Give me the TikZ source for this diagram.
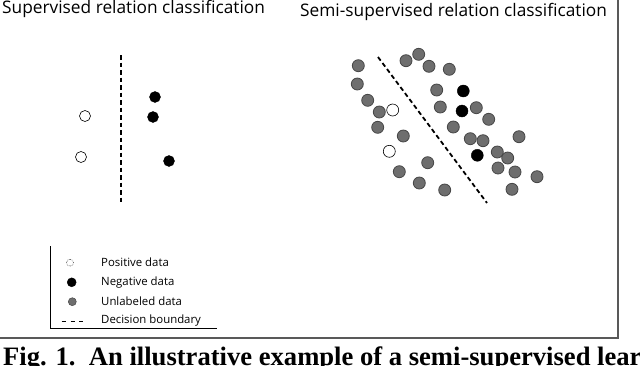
\documentclass[tikz,border=0pt]{standalone}
\usepackage{fontspec}
\setmainfont{Liberation Serif}
\setsansfont{Open Sans}
\usepackage{tikz}
\usetikzlibrary{positioning}
\tikzset{
  posdot/.style={circle, draw=black, fill=white, line width=0.6pt,
                 minimum size=11pt, inner sep=0pt},
  negdot/.style={circle, draw=black, fill=black, minimum size=11pt, inner sep=0pt},
  unldot/.style={circle, draw=black!72, fill=black!57, line width=0.8pt,
                 minimum size=12pt, inner sep=0pt},
  boundary/.style={dash pattern=on 4.5pt off 3pt, line width=1.8pt},
  titletext/.style={font=\sffamily\fontsize{17.3}{19}\selectfont, inner sep=0pt,
                    anchor=base west},
  legendtext/.style={font=\sffamily\fontsize{11.4}{13}\selectfont, inner sep=0pt,
                     anchor=west},
  frameline/.style={draw=black!65, line width=1.3pt},
}

\begin{document}
\begin{tikzpicture}[x=1pt, y=-1pt]
  \clip (0,0) rectangle (640,365);

  % titles
  \node (suptitle) [titletext] at (2,13.5) {Supervised relation classification};
  \node (semititle) [titletext] at (300,16.5) {Semi-supervised relation classification};

  % supervised panel
  \coordinate (supA) at (120.7,55);
  \coordinate (supB) at (120.7,204);
  \draw[boundary] (supA) -- (supB);
  \node (spos1) [posdot] at (85,116) {};
  \node (spos2) [posdot] at (81,157) {};
  \node (sneg1) [negdot] at (155,97) {};
  \node (sneg2) [negdot] at (153,117) {};
  \node (sneg3) [negdot] at (169,161) {};

  % semi-supervised panel
  \coordinate (semiA) at (378,57);
  \coordinate (semiB) at (487,203);
  \draw[boundary] (semiA) -- (semiB);
  \foreach \x/\y [count=\i] in {358.3/65.7, 406/60.7, 418.7/54.3, 429/66.3,
      449.3/69.3, 357.3/84, 436.7/90, 367.7/100.3, 379.3/112, 440.3/107,
      476.3/107.7, 488.7/119.3, 377.7/127.3, 453.3/127, 403.3/136,
      470.3/138.7, 483/140.7, 519/136.7, 497.3/152, 507.7/158, 427.7/162.7,
      498/168, 515/172, 537/176.7, 399.3/171.7, 419.3/183, 444.7/190,
      512/189.3}
    \node (unl\i) [unldot] at (\x,\y) {};
  \node (mneg1) [negdot, minimum size=12pt] at (463.3,91) {};
  \node (mneg2) [negdot, minimum size=12pt] at (462,111) {};
  \node (mneg3) [negdot, minimum size=12pt] at (477.3,155.3) {};
  \node (mpos1) [posdot, minimum size=12pt] at (392.7,110) {};
  \node (mpos2) [posdot, minimum size=12pt] at (389.3,151.3) {};

  % legend
  \coordinate (lboxTop) at (50,246);
  \coordinate (lboxCorner) at (50,328.3);
  \coordinate (lboxEnd) at (217,328.3);
  \draw[line width=0.6pt] (lboxTop) -- (lboxCorner) -- (lboxEnd);
  \node (lpos) [posdot, minimum size=7pt, line width=0.5pt, densely dotted] at (70,262.7) {};
  \node (lneg) [negdot, minimum size=9pt] at (71.7,282.3) {};
  \node (lunl) [unldot, minimum size=8pt, line width=0.5pt] at (72.3,301.7) {};
  \coordinate (ldashA) at (61.7,321);
  \coordinate (ldashB) at (83.3,321);
  \draw[dash pattern=on 4pt off 4.8pt, line width=0.6pt] (ldashA) -- (ldashB);
  \node (lpostext) [legendtext] at (101,262.7) {Positive data};
  \node (lnegtext) [legendtext] at (101,282.3) {Negative data};
  \node (lunltext) [legendtext] at (101,301.7) {Unlabeled data};
  \node (ldashtext) [legendtext] at (101,321) {Decision boundary};

  % frame
  \coordinate (frTop) at (618,0);
  \coordinate (frCorner) at (618,338);
  \coordinate (frEnd) at (0,338);
  \draw[frameline] (frTop) -- (frCorner) -- (frEnd);

  % caption
  \node (caption) [font=\bfseries\fontsize{26.6}{28}\selectfont, inner sep=0pt,
                   anchor=base west] at (3,365)
    {Fig. 1.\ \ An illustrative example of a semi-supervised learning};
\end{tikzpicture}
\end{document}
